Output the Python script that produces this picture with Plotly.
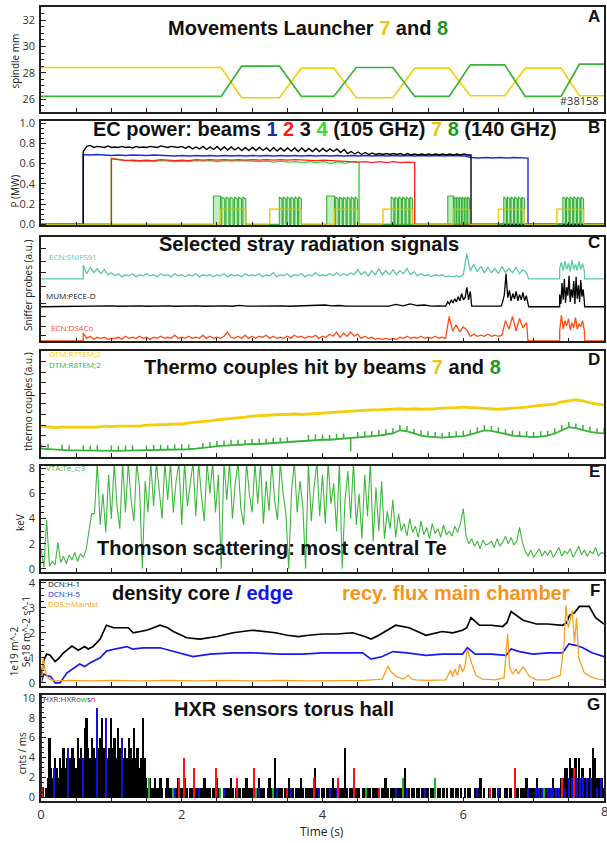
import numpy as np
import plotly.graph_objects as go

# ------------------------------------------------------------------ colours
FRAME = "#1f1f1f"
TICK_TXT = "#333333"
C_Y7 = "#f6cd0b"      # launcher / gyrotron 7
C_G8 = "#39b239"      # launcher / gyrotron 8
T_Y7 = "#eec21a"
T_G8 = "#1f981f"
C_B1 = "#1b2fd2"
C_B2 = "#ff2020"
C_B3 = "#000000"
C_B4 = "#2fdc2f"
C_TEAL = "#5cc9a6"
C_ORED = "#ff4b14"
C_TE = "#3cb83c"
C_ORANGE = "#f8a11c"
C_BLUE = "#1a1aee"

# ------------------------------------------------- A: launcher spindle (mm)
launch_t = [0.00, 2.56, 2.85, 3.39, 3.70, 4.16, 4.48, 5.00, 5.31, 5.80, 6.10, 6.59, 6.88, 7.39, 7.65, 8.00]
launch7_mm = [28.40, 28.40, 26.10, 26.10, 28.35, 28.35, 26.10, 26.10, 28.35, 28.35, 26.25, 26.25, 28.35, 28.35, 26.25, 26.25]
launch8_mm = [26.20, 26.20, 28.50, 28.50, 26.20, 26.20, 28.40, 28.40, 26.20, 26.20, 28.60, 28.60, 26.20, 26.20, 28.65, 28.65]

# --------------------------------------------------------- B: EC power (MW)
ec_on = {"1": 0.60, "2": 1.00, "3": 0.60, "4": 1.00}
ec_off = {"1": 6.92, "2": 5.31, "3": 6.11, "4": 4.52}
ec_p1 = [0.69, 0.685, 0.69, 0.685, 0.68, 0.685, 0.68, 0.685, 0.68, 0.68,
         0.685, 0.68, 0.68, 0.675, 0.68, 0.675, 0.68, 0.675, 0.68, 0.675,
         0.68, 0.675, 0.68, 0.675, 0.68, 0.675, 0.68, 0.675, 0.68, 0.675,
         0.68, 0.675, 0.68, 0.675, 0.68, 0.675, 0.68, 0.675, 0.68, 0.675,
         0.68, 0.675, 0.68, 0.675, 0.68, 0.675, 0.68, 0.675, 0.68, 0.675,
         0.68, 0.675, 0.68, 0.675, 0.675, 0.66, 0.655, 0.66, 0.655, 0.66,
         0.655, 0.66, 0.655, 0.655]
ec_p2 = [0.65, 0.64, 0.63, 0.635, 0.63, 0.635, 0.63, 0.64, 0.635, 0.63,
         0.635, 0.63, 0.64, 0.635, 0.64, 0.635, 0.64, 0.635, 0.64, 0.635,
         0.64, 0.635, 0.64, 0.635, 0.64, 0.635, 0.64, 0.635, 0.635, 0.63,
         0.635, 0.63, 0.63, 0.625, 0.62, 0.615, 0.62, 0.61, 0.62, 0.61,
         0.62, 0.61, 0.615, 0.61]
ec_p3 = [0.72, 0.77, 0.78, 0.76, 0.77, 0.765, 0.76, 0.775, 0.76,
         0.765, 0.76, 0.77, 0.76, 0.765, 0.755, 0.77, 0.76, 0.765, 0.76,
         0.77, 0.765, 0.76, 0.775, 0.765, 0.76, 0.77, 0.765, 0.76, 0.77,
         0.75, 0.77, 0.745, 0.765, 0.745, 0.77, 0.74, 0.765, 0.74, 0.77,
         0.735, 0.765, 0.735, 0.765, 0.735, 0.76, 0.73, 0.76, 0.73, 0.76,
         0.73, 0.76, 0.73, 0.755, 0.725, 0.76, 0.725, 0.755, 0.725, 0.755,
         0.725, 0.755, 0.72, 0.755, 0.72, 0.75, 0.72, 0.75, 0.72, 0.75,
         0.72, 0.745, 0.72, 0.745, 0.71, 0.74, 0.70, 0.72, 0.695, 0.715,
         0.69, 0.71, 0.69, 0.705, 0.69, 0.70, 0.69, 0.70, 0.69, 0.70,
         0.69, 0.70, 0.685, 0.70, 0.685, 0.695, 0.685, 0.695, 0.685, 0.695,
         0.685, 0.695, 0.685, 0.695, 0.685, 0.695, 0.685, 0.695, 0.685, 0.695,
         0.685, 0.685]
ec_p4 = [0.65, 0.64, 0.63, 0.625, 0.62, 0.625, 0.62, 0.63, 0.625, 0.62,
         0.625, 0.62, 0.63, 0.625, 0.63, 0.62, 0.63, 0.625, 0.63, 0.625,
         0.625, 0.62, 0.625, 0.615, 0.625, 0.615, 0.62, 0.61, 0.62, 0.61,
         0.62, 0.60, 0.62, 0.60, 0.62, 0.61]

# modulated 140 GHz gyrotrons 7 and 8 (bursts of power pulses)
burst_lead = ["8", "7", "8", "7", "8", "7", "7"]
burst_start = [2.45, 3.25, 4.06, 4.86, 5.78, 6.50, 7.33]
burst_pulse_start = [2.55, 3.37, 4.17, 4.96, 5.86, 6.56, 7.40]
burst_end = [2.91, 3.70, 4.50, 5.28, 6.09, 6.87, 7.71]
PULSES_PER_BURST = 6
B8_PULSE_MW = 0.27
B8_PLATEAU_MW = 0.28
B7_LEVEL_MW = 0.15

# ------------------------------------------------ C: sniffer probes (a.u.)
SNIF_BASE = 6.0
snif_main = [7.3, 6.5, 7.1, 6.6, 7.0, 6.5, 6.9, 6.4, 6.6,
             6.3, 6.5, 6.2, 6.4, 6.3, 6.5, 6.2, 6.4, 6.3, 6.5, 6.3, 6.4, 6.2, 6.5, 6.3, 6.4, 6.2, 6.5, 6.3, 6.4,
             6.2, 6.4, 6.3, 6.5, 6.2, 6.4, 6.3, 6.4, 6.2, 6.4, 6.3, 6.5, 6.2, 6.4, 6.3, 6.4, 6.2, 6.5, 6.3, 6.4,
             6.3, 6.5, 6.2, 6.4, 6.3, 6.6, 6.2, 6.4, 6.3, 6.5, 6.2, 6.4, 6.3, 6.5, 6.2, 6.4, 6.3, 6.6, 6.3, 6.4,
             6.3, 6.5, 6.3, 6.6, 6.3, 6.5, 6.3, 6.6, 6.4, 6.9, 6.4, 6.7, 6.3, 6.8, 6.4, 7.0, 6.4, 6.8, 6.4, 6.9,
             6.4, 6.8, 6.5, 7.0, 6.4, 6.7, 6.3, 6.5, 6.3, 6.4, 6.2, 6.4, 6.3, 6.4, 6.2, 6.3, 6.2, 6.3, 6.2, 6.4,
             8.4, 6.8, 7.4, 6.7, 7.2, 6.6, 7.1, 6.6, 7.0, 6.5, 7.2, 6.6, 7.0, 6.6, 7.1, 6.5, 6.9, 6.6]
snif_span = (0.60, 6.90)
snif_burst = [7.0, 7.6, 6.8, 7.7, 6.9, 7.5, 6.7, 7.8, 6.9, 7.4, 6.8, 7.7, 6.9, 7.5, 6.8]
snif_burst_span = (7.37, 7.72)

PECE_BASE = 3.33
pece_quiet1 = [3.40, 3.38, 3.42, 3.39, 3.41, 3.38, 3.40, 3.39, 3.41, 3.38,
               3.40, 3.39, 3.41, 3.38, 3.40, 3.39, 3.42, 3.38, 3.40, 3.39,
               3.41, 3.38, 3.47, 3.39, 3.40, 3.38, 3.40, 3.45, 3.41, 3.38,
               3.40, 3.44, 3.39, 3.42, 3.50, 3.41, 3.45, 3.39, 3.40, 3.38,
               3.40, 3.39, 3.45, 3.40, 3.55, 3.42, 3.60, 3.45, 3.50, 3.40,
               3.42, 3.40]
pece_quiet1_span = (0.60, 5.75)
pece_b1 = [3.8, 3.6, 4.0, 3.7, 4.1, 3.8, 4.3, 3.9, 4.6, 4.0, 4.2, 5.2, 4.0, 4.8]
pece_b1_span = (5.78, 6.10)
pece_quiet2 = [3.40, 3.38, 3.41, 3.39]
pece_quiet2_span = (6.12, 6.54)
pece_b2 = [3.8, 4.5, 6.5, 4.2, 4.9, 3.9, 4.6, 4.1, 4.8, 3.9, 4.5, 4.0, 4.7, 3.9, 4.4, 3.7]
pece_b2_span = (6.56, 6.92)
pece_b3 = [4.5, 3.6, 5.6, 4.0, 6.0, 3.7, 5.2, 4.4, 6.3, 3.8, 5.0, 4.2, 5.8, 3.6, 6.2, 4.1, 5.4, 3.8, 5.9, 4.3, 5.0, 3.9]
pece_b3_span = (7.37, 7.72)

DS4_BASE = 0.05
ds4_main = [0.8, 0.3, 0.5, 0.2, 0.4, 0.3, 0.4, 0.2, 0.3,
            0.3, 0.4, 0.2, 0.5, 0.3, 0.4, 0.3, 0.5, 0.3, 0.4, 0.2, 0.4, 0.3, 0.5, 0.3, 0.4, 0.3, 0.6, 0.3, 0.4,
            0.3, 0.5, 0.3, 0.4, 0.3, 0.6, 0.3, 0.5, 0.3, 0.4, 0.3, 0.5, 0.9, 0.4, 0.3, 0.5, 0.3, 0.6, 0.3, 0.5,
            0.3, 0.5, 0.4, 0.6, 0.3, 0.5, 0.3, 0.4, 0.3, 0.5, 0.3, 0.6, 0.4, 0.5, 0.3, 0.5, 0.4, 0.6, 0.3, 0.5,
            0.4, 0.7, 0.5, 0.9, 0.4, 0.8, 0.5, 0.9, 0.5, 0.7, 0.3, 0.5, 0.3, 0.4, 0.2, 0.3, 0.2, 0.3, 0.2, 0.3,
            0.2, 0.4, 0.3, 0.5, 0.3, 0.4, 0.3, 0.5, 0.3, 0.4, 0.3, 0.5, 0.3, 0.4, 0.3, 2.4, 1.0, 1.6, 0.9, 1.4,
            1.1, 0.5, 0.7, 0.5, 0.6, 0.5, 0.7, 0.5, 0.6, 0.5, 0.6, 2.0, 1.2, 2.4, 1.0, 2.2, 1.3, 1.8]
ds4_span = (0.60, 6.90)
ds4_burst = [1.0, 2.5, 1.2, 2.0, 1.5, 2.2, 1.1, 1.8, 1.3, 2.3, 1.2, 1.7, 1.4, 2.0, 1.1]
ds4_burst_span = (7.37, 7.72)

# --------------------------------------------- D: thermocouples (a.u.)
tc_t = [round(0.1 * i, 1) for i in range(81)]
tc7 = [2.9, 2.8, 2.75, 2.8, 2.8, 2.85, 2.8, 2.85, 2.8, 2.9,
       2.85, 2.9, 2.9, 2.95, 2.9, 3.0, 3.0, 3.05, 3.05, 3.1,
       3.1, 3.2, 3.25, 3.3, 3.4, 3.5, 3.55, 3.6, 3.7, 3.75,
       3.85, 3.9, 3.95, 3.95, 4.0, 4.0, 4.05, 4.0, 4.05, 4.1,
       4.15, 4.2, 4.25, 4.3, 4.3, 4.35, 4.4, 4.45, 4.45, 4.5,
       4.5, 4.55, 4.5, 4.55, 4.5, 4.5, 4.55, 4.6, 4.6, 4.65,
       4.7, 4.65, 4.6, 4.55, 4.5, 4.5, 4.55, 4.6, 4.6, 4.7,
       4.8, 4.85, 4.9, 5.0, 5.2, 5.3, 5.4, 5.3, 5.1, 5.0,
       4.9]
tc8 = [0.75, 0.7, 0.65, 0.62, 0.6, 0.6, 0.58, 0.58, 0.57, 0.56,
       0.56, 0.55, 0.56, 0.57, 0.58, 0.6, 0.6, 0.62, 0.64, 0.66,
       0.68, 0.7, 0.75, 0.8, 0.9, 1.0, 1.05, 1.1, 1.1, 1.15,
       1.2, 1.2, 1.25, 1.3, 1.3, 1.35, 1.4, 1.5, 1.55, 1.6,
       1.6, 1.6, 1.65, 1.7, 1.8, 1.85, 1.9, 1.95, 2.0, 2.1,
       2.2, 2.5, 2.4, 2.2, 2.0, 1.9, 1.85, 1.8, 1.85, 1.9,
       1.95, 2.1, 2.3, 2.5, 2.45, 2.3, 2.1, 2.0, 1.95, 1.9,
       1.85, 1.9, 2.0, 2.2, 2.5, 2.8, 2.7, 2.5, 2.35, 2.25,
       2.2]
tc8_spike = [0.45, 0.5, 0, 0.5, 0.45, 0, 0.5, 0.45, 0.5, 0,
             0.5, 0.45, 0.5, 0.5, 0, 0.45, 0.5, 0.5, 0.45, 0.5,
             0.5, 0.45, 0, 0.5, 0.5, 0.5, 0.45, 0.5, 0.5, 0.45,
             0.5, 0.5, 0.45, 0.5, 0.5, 0.5, 0, 0, 0.5, 0.5,
             0.5, 0.45, 0.5, 0.5, -1.3, 0.5, 0.5, 0.45, 0.5, 0.5,
             0.5, 0.5, 0.5, 0.45, 0.5, 0.5, 0.5, 0.45, 0.5, 0.5,
             0.5, 0.45, 0.5, 0.5, 0.45, 0.5, 0.5, 0.5, 0.45, 0.5,
             0.5, 0.5, 0.45, 0.5, 0.5, 0.5, 0.45, 0.5, 0.5, 0.45,
             0.5]

# ------------------------------------------- E: Thomson central Te (keV)
te_span = (0.0, 8.0)
te_kev = [1.6, 0.1, 3.9, 0.2, 0.6, 0.3, 2.1, 0.5, 1.0, 0.4, 1.1, 0.7, 1.3, 0.6, 1.2,
          0.9, 1.5, 2.8, 4.4, 4.4,
          8.5, 3.5, 6.0, 2.9, 7.5, 4.0, 8.5, 5.0, 3.2, 8.5,
          4.5, 8.5, 5.5, 3.8, 8.5, 6.5, 0.0, 7.0, 4.5, 8.5,
          5.0, 8.5, 6.0, 4.0, 8.5, 5.5, 8.5, 4.5, 7.0, 8.5,
          3.5, 8.5, 5.0, 6.5, 8.5, 4.2, 8.5, 5.8, 3.8, 8.5,
          6.0, 8.5, 4.5, 7.5, 0.0, 8.5, 5.5, 8.5, 4.0, 6.8,
          8.5, 4.8, 3.5, 8.5, 6.0, 4.5, 8.5, 5.2, 8.5, 3.6,
          7.0, 4.6, 8.5, 5.5, 3.9, 8.5, 6.0, 4.4, 0.0, 6.2,
          8.5, 4.5, 7.0, 5.0, 0.0, 8.5, 3.8, 6.5, 8.5, 4.2,
          7.5, 3.6, 8.5, 5.2, 6.8, 3.0, 8.5, 0.0, 5.5, 7.8,
          4.0, 8.5, 3.5, 6.0, 2.4, 7.5, 4.2, 8.5, 2.2, 6.5,
          3.0, 7.0, 2.4, 4.6, 3.2, 5.5, 2.5, 4.4, 3.0, 3.6,
          2.6, 4.0, 2.9, 3.4, 2.5, 3.8, 2.7, 3.3, 2.4, 3.6,
          2.8, 3.2, 2.5, 3.5, 2.7, 3.0, 2.6, 3.4, 2.9, 3.6,
          4.8, 2.6, 2.0, 2.4, 1.8, 2.2, 1.6, 2.3, 1.9, 2.0,
          2.2, 1.7, 2.4, 1.8, 2.1, 2.6, 2.0, 2.5, 1.9, 2.2,
          3.3, 2.1, 1.4, 1.0, 1.5, 0.9, 1.3, 1.6, 1.0, 1.4,
          1.1, 1.5, 0.9, 1.3, 1.7, 1.0, 1.4, 1.2, 1.6, 0.9,
          1.3, 1.8, 1.1, 1.5, 1.0, 1.4, 1.2, 1.7, 1.0, 1.3,
          1.2]

# ------------------------------------------ F: densities and recycling flux
dcn1_t = [0.00, 0.04, 0.08, 0.13, 0.20, 0.26, 0.32, 0.38, 0.44, 0.53,
          0.62, 0.67, 0.74, 0.84, 0.93, 1.03, 1.15, 1.24, 1.31, 1.40,
          1.50, 1.60, 1.69, 1.80, 1.88, 2.07, 2.26, 2.50, 2.73, 3.00,
          3.15, 3.33, 3.50, 3.66, 3.80, 4.00, 4.20, 4.43, 4.60, 4.69,
          4.80, 4.92, 5.04, 5.23, 5.47, 5.70, 5.85, 5.99, 6.05, 6.11,
          6.23, 6.40, 6.56, 6.62, 6.68, 6.85, 7.04, 7.20, 7.41, 7.47,
          7.51, 7.58, 7.65, 7.72, 7.79, 7.88, 7.95, 8.00]
dcn1 = [0.20, 0.90, 1.15, 1.10, 0.85, 1.00, 1.20, 1.35, 1.47, 1.30,
        1.45, 1.35, 1.45, 1.75, 2.30, 2.20, 2.20, 2.20, 2.00, 2.05,
        2.10, 2.20, 2.30, 2.20, 2.05, 1.80, 1.75, 1.85, 2.00, 2.10,
        2.05, 2.00, 1.90, 1.85, 1.90, 1.95, 1.95, 2.00, 1.85, 1.75,
        1.90, 2.10, 2.30, 2.20, 1.90, 2.05, 2.00, 2.10, 2.20, 2.60,
        2.30, 2.30, 2.25, 2.40, 2.85, 2.50, 2.35, 2.35, 2.30, 2.40,
        2.70, 2.80, 3.05, 3.05, 3.05, 2.60, 2.45, 2.35]
dcn5_t = [0.00, 0.04, 0.08, 0.14, 0.20, 0.27, 0.37, 0.45, 0.55, 0.62,
          0.70, 0.84, 0.93, 1.05, 1.22, 1.30, 1.45, 1.69, 1.90, 2.16,
          2.40, 2.73, 3.00, 3.40, 3.72, 4.00, 4.30, 4.57, 4.69, 4.85,
          5.00, 5.20, 5.47, 5.70, 5.99, 6.06, 6.17, 6.40, 6.61, 6.68,
          6.80, 6.99, 7.20, 7.41, 7.50, 7.60, 7.70, 7.83, 8.00]
dcn5 = [0.00, 0.35, 0.30, 0.25, 0.00, 0.00, 0.40, 0.55, 0.75, 0.65,
        0.80, 1.00, 1.27, 1.35, 1.45, 1.35, 1.40, 1.40, 1.25, 1.05,
        1.15, 1.20, 1.20, 1.15, 1.15, 1.20, 1.20, 1.20, 0.95, 1.05,
        1.25, 1.20, 1.10, 1.15, 1.15, 1.40, 1.15, 1.15, 1.10, 1.35,
        1.25, 1.15, 1.20, 1.20, 1.55, 1.50, 1.40, 1.20, 1.05]
flux_t = [0.00, 0.02, 0.03, 0.05, 0.08, 0.12, 0.20, 0.40, 0.70, 1.00,
          1.40, 1.80, 2.20, 2.60, 3.00, 3.40, 3.80, 4.20, 4.60, 4.85,
          4.93, 4.97, 5.05, 5.15, 5.22, 5.27, 5.33, 5.50, 5.75, 5.82,
          5.85, 5.88, 5.92, 5.95, 5.99, 6.02, 6.06, 6.11, 6.18, 6.27,
          6.45, 6.58, 6.63, 6.66, 6.70, 6.75, 6.78, 6.85, 6.94, 7.04,
          7.20, 7.38, 7.43, 7.46, 7.49, 7.52, 7.55, 7.58, 7.61, 7.64,
          7.67, 7.72, 7.78, 7.85, 7.92, 8.00]
flux = [0.00, 0.50, 1.05, 0.60, 0.30, 0.15, 0.08, 0.10, 0.08, 0.10,
        0.08, 0.10, 0.08, 0.10, 0.08, 0.10, 0.08, 0.10, 0.10, 0.15,
        0.67, 0.45, 0.25, 0.15, 0.30, 0.15, 0.12, 0.10, 0.12, 0.50,
        0.25, 0.55, 0.30, 0.75, 0.45, 0.60, 1.35, 0.85, 0.30, 0.15,
        0.12, 0.20, 1.95, 0.60, 0.35, 0.55, 0.35, 0.65, 0.25, 0.12,
        0.12, 0.30, 1.50, 3.10, 2.20, 2.50, 2.90, 1.60, 2.60, 1.00,
        0.80, 0.40, 0.30, 0.20, 0.15, 0.12]

# ------------------------------------------------- G: HXR counts (cnts/ms)
hxr_span = (0.0, 8.0)
hxr_black = [0, 1, 0, 1, 2, 6, 3, 2, 4, 3, 2, 4, 3, 5, 3, 4, 3, 4, 5, 4, 3, 6, 4, 5, 4, 7, 8, 5, 4, 6, 5, 4, 9, 5, 6, 8, 5, 6, 4, 5,
             8, 5, 6, 4, 7, 5, 6, 4, 5, 4, 6, 5, 4, 7, 4, 5, 3, 4, 8, 4, 2, 1, 2, 1, 1, 2, 1, 1, 2, 1, 0, 1, 2, 1, 1, 0, 1, 1, 2, 1,
             1, 1, 2, 1, 0, 1, 1, 2, 1, 1, 0, 1, 1, 2, 1, 1, 1, 0, 1, 1, 2, 1, 1, 0, 1, 1, 1, 1, 2, 1, 0, 1, 1, 1, 0, 1, 1, 2, 1, 1,
             1, 1, 0, 1, 2, 1, 1, 1, 0, 1, 2, 1, 1, 4, 1, 1, 1, 1, 0, 1, 1, 2, 1, 1, 0, 1, 1, 1, 2, 1, 0, 1, 1, 1, 1, 1, 3, 1, 1, 0,
             1, 1, 0, 1, 1, 1, 2, 1, 1, 1, 1, 1, 1, 5, 1, 0, 1, 1, 2, 1, 1, 1, 0, 1, 1, 1, 1, 1, 0, 1, 1, 1, 1, 0, 1, 1, 2, 1, 0, 1,
             1, 1, 0, 1, 1, 1, 1, 3, 1, 1, 0, 1, 1, 0, 1, 1, 0, 1, 1, 1, 1, 0, 1, 1, 0, 0, 1, 1, 0, 1, 0, 1, 0, 1, 1, 0, 1, 1, 0, 1,
             0, 1, 0, 1, 1, 0, 0, 1, 0, 1, 2, 0, 1, 0, 0, 1, 0, 1, 1, 0, 0, 1, 0, 0, 1, 1, 0, 1, 0, 0, 1, 1, 0, 1, 1, 1, 2, 1, 1, 1,
             1, 1, 2, 1, 1, 0, 1, 1, 1, 1, 1, 2, 1, 1, 1, 1, 2, 2, 3, 3, 2, 4, 3, 2, 4, 2, 4, 2, 3, 2, 1, 2, 3, 2, 5, 4, 2, 2, 1, 2,
             1]
hxr_blue_t = [0.18, 0.39, 0.60, 0.79, 0.92, 1.15, 1.90, 2.25, 2.50, 2.60,
              3.10, 3.35, 3.55, 3.95, 4.10, 4.20, 4.45, 4.62, 5.05, 5.20,
              5.45, 6.20, 6.50, 6.92, 7.04, 7.08, 7.12, 7.16, 7.20, 7.24,
              7.28, 7.32, 7.36, 7.40, 7.44, 7.50, 7.54, 7.58, 7.62, 7.66,
              7.70, 7.76, 7.82, 7.90, 7.96]
hxr_blue = [3, 5, 4, 9, 8, 6, 1, 1, 1, 1,
            1, 1, 1, 1, 1, 1, 1, 1, 1, 1,
            1, 1, 1, 1, 1, 1, 1, 1, 1, 1,
            1, 1, 1, 1, 1, 2, 2, 2, 2, 2,
            2, 2, 2, 1, 2]
hxr_red_t = [0.02, 1.96, 2.03, 2.17, 2.48, 2.78, 3.02, 3.50, 3.88, 4.22, 4.45, 4.80, 6.38, 6.74, 7.40, 7.57]
hxr_red = [1, 2, 4, 3, 3, 2, 3, 1, 2, 2, 3, 1, 1, 3, 2, 3]
hxr_green_t = [1.53, 1.88, 2.55, 3.05, 3.30, 4.62, 5.14, 5.60, 7.15]
hxr_green = [2, 1, 1, 1, 1, 1, 2, 2, 1]
hxr_dark_t = [0.004]
hxr_dark = [10.3]

# ------------------------------------------------------------------ figure
fig = go.Figure()


def axes(k):
    return ("x" if k == 1 else f"x{k}"), ("y" if k == 1 else f"y{k}")


def line(k, x, y, color, width=1.4, **kw):
    xa, ya = axes(k)
    fig.add_trace(go.Scatter(x=x, y=y, mode="lines", line=dict(color=color, width=width),
                             xaxis=xa, yaxis=ya, showlegend=False, hoverinfo="skip", **kw))


def segment(span, vals):
    return list(np.linspace(span[0], span[1], len(vals))), list(vals)


# A ---------------------------------------------------------------------
line(1, launch_t, launch7_mm, C_Y7, 1.7)
line(1, launch_t, launch8_mm, C_G8, 1.7)

# B ---------------------------------------------------------------------
y7_t, y7_p = [0.0], [0.0]
g8_t, g8_p = [0.0], [0.0]
for lead, t0, tp, t1 in zip(burst_lead, burst_start, burst_pulse_start, burst_end):
    if lead == "8":
        g8_t += [t0, t0, tp, tp]
        g8_p += [0, B8_PLATEAU_MW, B8_PLATEAU_MW, 0]
        y_on = tp
    else:
        y_on = t0
    period = (t1 - tp) / PULSES_PER_BURST
    for k in range(PULSES_PER_BURST):
        a = tp + (k + 0.3) * period
        b = tp + (k + 1) * period
        g8_t += [a, a, b, b]
        g8_p += [0, B8_PULSE_MW, B8_PULSE_MW - 0.02, 0]
    y7_t += [y_on, y_on, t1, t1]
    y7_p += [0, B7_LEVEL_MW, B7_LEVEL_MW, 0]
y7_t.append(8.0); y7_p.append(0.0)
g8_t.append(8.0); g8_p.append(0.0)

line(2, y7_t, y7_p, C_Y7, 1.3)


def ec_beam(key, vals):
    on, off = ec_on[key], ec_off[key]
    t, p = segment((on, off), vals)
    return [0.0, on] + t + [off, 8.0], [0.0, 0.0] + p + [0.0, 0.0]


for key, vals, col in [("4", ec_p4, C_B4), ("2", ec_p2, C_B2), ("1", ec_p1, C_B1), ("3", ec_p3, C_B3)]:
    t, p = ec_beam(key, vals)
    line(2, t, p, col, 1.4)

line(2, g8_t, g8_p, C_G8, 1.1, fill="tozeroy", fillcolor="rgba(80,200,80,0.35)")
line(2, y7_t, y7_p, "rgba(246,205,11,0.85)", 1.0)

# C ---------------------------------------------------------------------
t, v = segment(snif_span, snif_main)
tb, vb = segment(snif_burst_span, snif_burst)
line(3, [0.0, snif_span[0]] + t + [snif_span[1] + 0.03, snif_burst_span[0]] + tb + [snif_burst_span[1] + 0.005, 8.0],
     [SNIF_BASE, SNIF_BASE] + v + [SNIF_BASE, SNIF_BASE] + vb + [SNIF_BASE, SNIF_BASE], C_TEAL, 1.3)

pt, pv = [0.0], [PECE_BASE]
for span_, vals in [(pece_quiet1_span, pece_quiet1), (pece_b1_span, pece_b1),
                    (pece_quiet2_span, pece_quiet2), (pece_b2_span, pece_b2)]:
    a, b = segment(span_, vals)
    pt += a; pv += b
a, b = segment(pece_b3_span, pece_b3)
pt += [pece_b2_span[1] + 0.01, pece_b3_span[0]] + a + [pece_b3_span[1] + 0.005, 8.0]
pv += [PECE_BASE, PECE_BASE] + b + [PECE_BASE, PECE_BASE]
line(3, pt, pv, "#000000", 1.3)

t, v = segment(ds4_span, ds4_main)
tb, vb = segment(ds4_burst_span, ds4_burst)
line(3, [0.0, ds4_span[0]] + t + [ds4_span[1] + 0.02, ds4_burst_span[0]] + tb + [ds4_burst_span[1] + 0.005, 8.0],
     [DS4_BASE, DS4_BASE] + v + [DS4_BASE, DS4_BASE] + vb + [DS4_BASE, DS4_BASE], C_ORED, 1.3)

# D ---------------------------------------------------------------------
line(4, tc_t, tc7, C_Y7, 2.8)
line(4, tc_t, tc8, C_G8, 1.8)
sx, sy = [], []
for tt, base, s in zip(tc_t, tc8, tc8_spike):
    if s != 0:
        sx += [tt, tt, None]
        sy += [base, base + s, None]
line(4, sx, sy, C_G8, 1.5)

# E ---------------------------------------------------------------------
t, v = segment(te_span, te_kev)
line(5, t, v, C_TE, 1.1)

# F ---------------------------------------------------------------------
line(6, dcn1_t, dcn1, "#000000", 1.7)
line(6, dcn5_t, dcn5, C_BLUE, 1.7)
line(6, flux_t, flux, C_ORANGE, 1.3)

# G ---------------------------------------------------------------------
xa, ya = axes(7)
t, v = segment(hxr_span, hxr_black)
fig.add_trace(go.Bar(x=t, y=v, width=0.026, marker=dict(color="black", line=dict(width=0)),
                     xaxis=xa, yaxis=ya, showlegend=False, hoverinfo="skip"))
for tt, vv, col, w in [(hxr_blue_t, hxr_blue, "#1010e0", 0.014), (hxr_red_t, hxr_red, "#ff1010", 0.014),
                       (hxr_green_t, hxr_green, "#20b020", 0.014), (hxr_dark_t, hxr_dark, "#6b2020", 0.01)]:
    fig.add_trace(go.Bar(x=tt, y=vv, width=w, marker=dict(color=col, line=dict(width=0)),
                         xaxis=xa, yaxis=ya, showlegend=False, hoverinfo="skip"))

# ------------------------------------------------------------------ layout
W_PLOT, H_PLOT, M_L, M_T = 563, 800, 41, 1


def pxx(x):
    return (x - M_L) / W_PLOT


def pyy(y):
    return (M_T + H_PLOT - y) / H_PLOT


panel_px = {1: (1, 107), 2: (116, 221), 3: (233, 338), 4: (348, 454),
            5: (463, 570), 6: (579, 685), 7: (694, 801)}

y_cfg = {
    1: dict(range=[25, 33], dtick=2, tick0=0, minor=0.5, labels=True, fmt=""),
    2: dict(range=[-0.01, 1.02], dtick=0.2, tick0=0, minor=0.05, labels=True, fmt=".1f"),
    3: dict(range=[0, 10], dtick=None, tick0=None, minor=None, labels=False, fmt="",
            vals=[0.6, 1.4, 2.4, 3.6, 5.3, 6.6, 7.7, 8.9]),
    4: dict(range=[0, 10], dtick=1, tick0=0, minor=None, labels=False, fmt=""),
    5: dict(range=[-0.24, 8.24], dtick=2, tick0=0, minor=0.5, labels=True, fmt=""),
    6: dict(range=[-0.12, 4.08], dtick=1, tick0=0, minor=0.25, labels=True, fmt=""),
    7: dict(range=[-0.37, 10.3], dtick=2, tick0=0, minor=0.5, labels=True, fmt=""),
}

layout = dict(width=607, height=843, margin=dict(l=M_L, r=3, t=M_T, b=42),
              paper_bgcolor="white", plot_bgcolor="white", showlegend=False,
              barmode="overlay", bargap=0)

for k in range(1, 8):
    xa, ya = axes(k)
    top, bot = panel_px[k]
    layout["xaxis" if k == 1 else f"xaxis{k}"] = dict(
        domain=[0, 1], anchor=ya, range=[0, 8], showline=True, mirror=True,
        linecolor=FRAME, linewidth=1.6, ticks="inside", ticklen=4, tickwidth=1,
        tickcolor=FRAME, dtick=2, tick0=0, showgrid=False, zeroline=False,
        minor=dict(dtick=0.5, ticks="inside", ticklen=4, tickcolor=FRAME, showgrid=False),
        showticklabels=(k == 7), ticklabelstandoff=1,
        tickfont=dict(family="Open Sans", size=13, color=TICK_TXT))
    c = y_cfg[k]
    yd = dict(domain=[pyy(bot), pyy(top)], anchor=xa, range=c["range"], showline=True,
              mirror=True, linecolor=FRAME, linewidth=1.6, ticks="inside", ticklen=5,
              tickwidth=1, tickcolor=FRAME, showgrid=False, zeroline=False,
              showticklabels=c["labels"], ticklabelstandoff=2,
              tickfont=dict(family="Open Sans", size=11, color=TICK_TXT))
    if c.get("vals"):
        yd.update(tickmode="array", tickvals=c["vals"])
    else:
        yd.update(dtick=c["dtick"], tick0=c["tick0"])
    if c["fmt"]:
        yd["tickformat"] = c["fmt"]
    if c["minor"]:
        yd["minor"] = dict(dtick=c["minor"], ticks="inside", ticklen=3, tickcolor=FRAME, showgrid=False)
    layout["yaxis" if k == 1 else f"yaxis{k}"] = yd

fig.update_layout(**layout)

TITLE_FONT = dict(family="Liberation Sans, Arial, sans-serif", size=20, color="#111111")
ann = []


def span(txt, col):
    return f"<span style='color:{col}'>{txt}</span>"


def title(x, y, text, font=TITLE_FONT):
    ann.append(dict(x=pxx(x), y=pyy(y), xref="paper", yref="paper", text=f"<b>{text}</b>",
                    showarrow=False, xanchor="center", yanchor="middle", font=font))


title(308, 22, "Movements Launcher " + span("7", T_Y7) + " and " + span("8", T_G8))
title(325, 124, "EC power: beams " + span("1", "#17309c") + " " + span("2", "#ff1a1a") + " 3 "
      + span("4", "#33dd33") + " (105 GHz) " + span("7", T_Y7) + " " + span("8", T_G8) + " (140 GHz)")
title(309, 240, "Selected stray radiation signals")
title(322, 364, "Thermo couples hit by beams " + span("7", T_Y7) + " and " + span("8", T_G8))
title(272, 546, "Thomson scattering: most central Te")
title(202, 591, "density core / " + span("edge", "#1515ee"))
title(456, 591, span("recy. flux main chamber", "#f7941d"))
title(284, 708, "HXR sensors torus hall")

LETTER_FONT = dict(family="Liberation Sans, Arial, sans-serif", size=17, color="#111111")
for letter, yc in zip("ABCDEFG", [11, 122, 238, 356, 469, 589, 704]):
    ann.append(dict(x=pxx(602), y=pyy(yc), xref="paper", yref="paper", text=f"<b>{letter}</b>",
                    showarrow=False, xanchor="right", yanchor="middle", font=LETTER_FONT))

SMALL = dict(family="Open Sans", size=8)
for x, y, txt, col in [(47, 252, "ECN:SNIFS91", C_TEAL), (44, 292, "MUM:PECE-D", "#111111"),
                       (49, 324, "ECN:DS4Co", C_ORED), (47, 350, "DTM:R7TEM;2", C_Y7),
                       (47, 361, "DTM:R8TEM;2", C_G8), (44, 465, "VTA:Te_c;3", C_TE),
                       (46, 582, "DCN:H-1", "#111111"), (46, 592, "DCN:H-5", C_BLUE),
                       (46, 602, "DDS:nMainIst", C_ORANGE)]:
    ann.append(dict(x=pxx(x), y=pyy(y), xref="paper", yref="paper", text=txt, showarrow=False,
                    xanchor="left", yanchor="middle", font=dict(SMALL, color=col)))
ann.append(dict(x=pxx(41), y=pyy(698), xref="paper", yref="paper",
                text="HXR:HXRo" + span("w", "#20b020") + span("s", "#1010e0") + span("n", "#ff2020"),
                showarrow=False, xanchor="left", yanchor="middle", font=dict(SMALL, color="#444444")))
ann.append(dict(x=pxx(601), y=pyy(95), xref="paper", yref="paper", text="#38158", showarrow=False,
                xanchor="right", yanchor="middle",
                font=dict(family="Open Sans", size=11, color="#333333")))

YT_FONT = dict(family="Open Sans", size=10, color="#222222")
for x, y, txt in [(15, 56, "spindle mm"), (15, 187, "P (MW)"), (28, 282, "Sniffer probes (a.u.)"),
                  (28, 399, "thermo couples (a.u.)"), (20, 521, "keV"), (14, 650, "1e19 m^-2"),
                  (26, 631, "5e18 m^-2 s^-1"), (22, 753, "cnts / ms")]:
    ann.append(dict(x=pxx(x), y=pyy(y), xref="paper", yref="paper", text=txt, showarrow=False,
                    textangle=-90, xanchor="center", yanchor="middle", font=YT_FONT))

# right-most time label sits on the page edge
ann.append(dict(x=pxx(604), y=pyy(811), xref="paper", yref="paper", text="8", showarrow=False,
                xanchor="center", yanchor="middle",
                font=dict(family="Open Sans", size=13, color=TICK_TXT)))
ann.append(dict(x=pxx(322), y=pyy(832), xref="paper", yref="paper", text="Time (s)", showarrow=False,
                xanchor="center", yanchor="middle",
                font=dict(family="Open Sans", size=12, color="#222222")))

fig.update_layout(annotations=ann)
fig.write_html("out.html")
